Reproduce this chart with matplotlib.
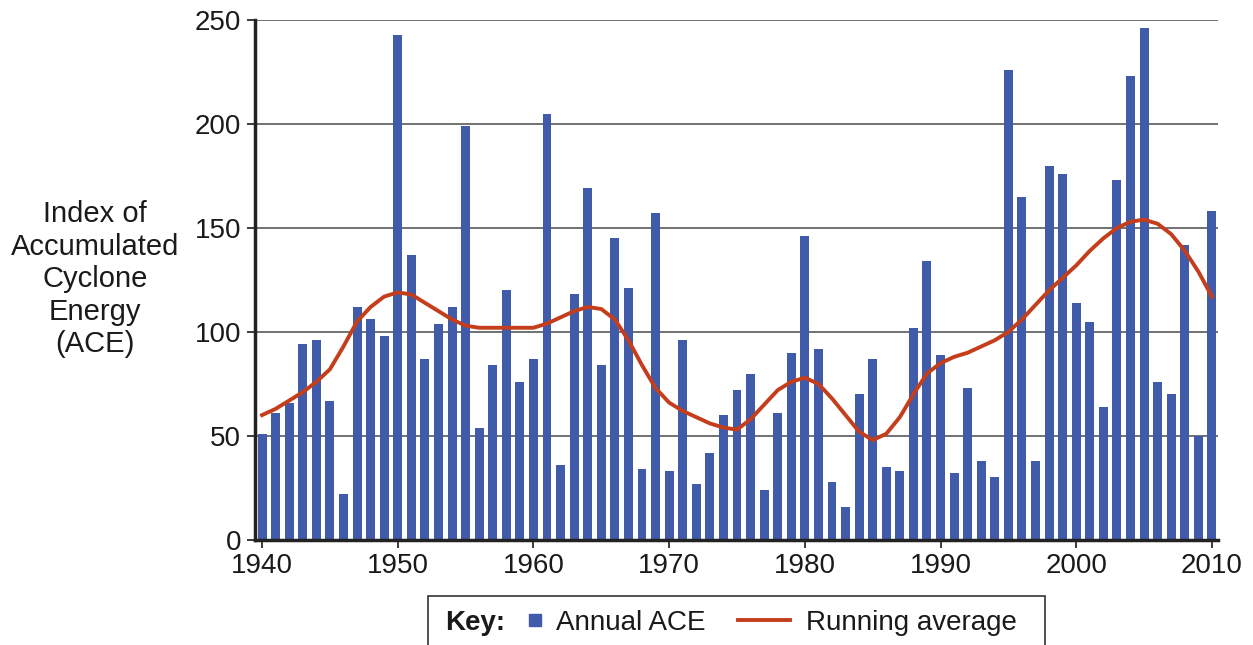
import matplotlib.pyplot as plt
import numpy as np
from matplotlib.lines import Line2D
from matplotlib.patches import Rectangle

# data
years = np.arange(1940, 2011)
ace = [51, 61, 66, 94, 96, 67, 22, 112, 106, 98,
       243, 137, 87, 104, 112, 199, 54, 84, 120, 76,
       87, 205, 36, 118, 169, 84, 145, 121, 34, 157,
       33, 96, 27, 42, 60, 72, 80, 24, 61, 90,
       146, 92, 28, 16, 70, 87, 35, 33, 102, 134,
       89, 32, 73, 38, 30, 226, 165, 38, 180, 176,
       114, 105, 64, 173, 223, 246, 76, 70, 142, 50,
       158]
running_avg = [60, 63, 67, 71, 76, 82, 93, 105, 112, 117,
               119, 118, 114, 110, 106, 103, 102, 102, 102, 102,
               102, 104, 107, 110, 112, 111, 106, 96, 84, 73,
               66, 62, 59, 56, 54, 53, 58, 65, 72, 76,
               78, 75, 68, 60, 52, 48, 51, 59, 70, 80,
               85, 88, 90, 93, 96, 100, 106, 113, 120, 126,
               132, 139, 145, 150, 153, 154, 152, 147, 139, 129,
               117]
xticks = [1940, 1950, 1960, 1970, 1980, 1990, 2000, 2010]
yticks = [0, 50, 100, 150, 200, 250]

bar_color = '#3f5ba9'
line_color = '#c43e1c'
text_color = '#1a1a1a'

plt.rcParams['font.family'] = ['Liberation Sans', 'DejaVu Sans']

fig = plt.figure(figsize=(12.53, 6.45), dpi=100)
ax = fig.add_axes([0.2035, 0.163, 0.7685, 0.806])

ax.bar(years, ace, width=0.66, color=bar_color, zorder=2)
ax.plot(years, running_avg, color=line_color, lw=2.8, zorder=3)

ax.set_xlim(1939.48, 2010.44)
ax.set_ylim(0, 250)
ax.set_xticks(xticks)
ax.set_yticks(yticks)
ax.tick_params(axis='both', labelsize=20, length=6, width=1.2, colors=text_color)
ax.tick_params(axis='y', pad=4)
ax.grid(axis='y', color='#4a4a4a', lw=1.1, zorder=1)
ax.set_axisbelow(True)
for s in ['top', 'right']:
    ax.spines[s].set_visible(False)
for s in ['left', 'bottom']:
    ax.spines[s].set_linewidth(2.5)
    ax.spines[s].set_color('#222222')

fig.text(0.076, 0.567, 'Index of\nAccumulated\nCyclone\nEnergy\n(ACE)',
         ha='center', va='center', multialignment='center',
         fontsize=21, linespacing=1.2, color=text_color)

# key box
fig.patches.append(Rectangle((428 / 1253, -0.02), (1045 - 428) / 1253, 0.096,
                             transform=fig.transFigure, fill=False,
                             ec='#333333', lw=1.2))
fig.text(445 / 1253, 0.034, 'Key:', fontsize=20, fontweight='bold',
         ha='left', va='center', color=text_color)
leg1 = fig.legend([Line2D([], [], ls='', marker='s', ms=9, color=bar_color)],
                  ['Annual ACE'], loc='center left',
                  bbox_to_anchor=(527 / 1253, 0.034), frameon=False,
                  fontsize=20, handlelength=0.6, handletextpad=0.45,
                  borderpad=0, borderaxespad=0, labelcolor=text_color)
leg2 = fig.legend([Line2D([], [], color=line_color, lw=2.8)],
                  ['Running average'], loc='center left',
                  bbox_to_anchor=(738 / 1253, 0.034), frameon=False,
                  fontsize=20, handlelength=1.87, handletextpad=0.58,
                  borderpad=0, borderaxespad=0, labelcolor=text_color)

fig.savefig('out.png', dpi=100)
